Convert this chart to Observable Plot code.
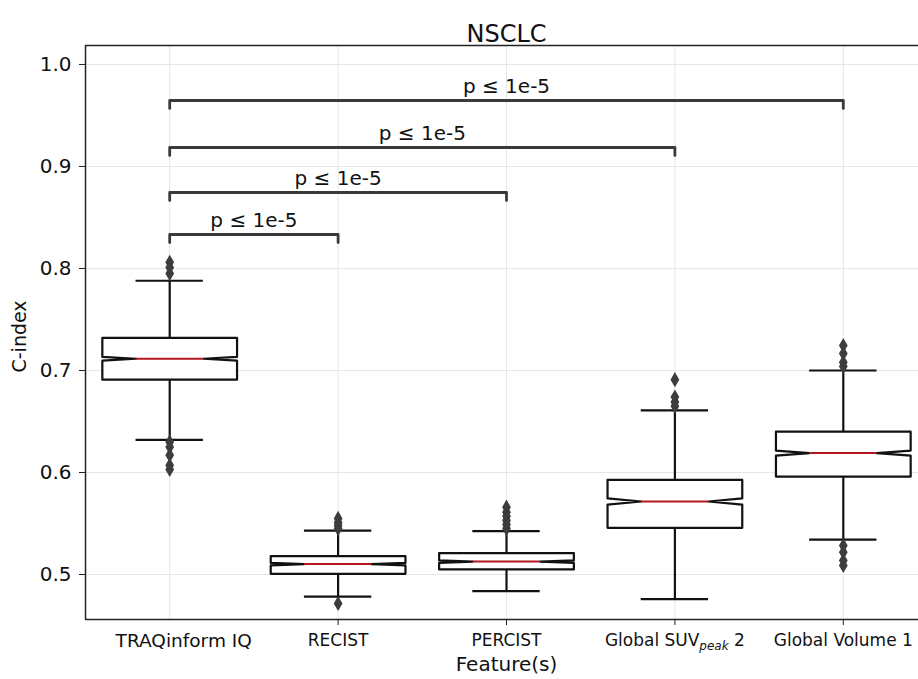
<!DOCTYPE html>
<html>
<head>
<meta charset="utf-8">
<script src="https://cdn.jsdelivr.net/npm/d3@7"></script>
<script src="https://cdn.jsdelivr.net/npm/@observablehq/plot@0.6"></script>
<style>
  html, body { margin: 0; padding: 0; background: #fff; }
  #chart { width: 918px; height: 679px; overflow: hidden; }
</style>
</head>
<body>
<div id="chart"></div>
<script>
const title = "NSCLC";
const xLabel = "Feature(s)";
const yLabel = "C-index";
const categories = ["TRAQinform IQ", "RECIST", "PERCIST", "Global SUV_peak 2", "Global Volume 1"];
const q1 =        [0.691, 0.5007, 0.505, 0.5458, 0.596];
const median =    [0.7115, 0.5102, 0.5127, 0.5716, 0.619];
const q3 =        [0.732, 0.5180, 0.521, 0.5928, 0.640];
const whiskerLo = [0.632, 0.4784, 0.4837, 0.4758, 0.5343];
const whiskerHi = [0.788, 0.5430, 0.5425, 0.661, 0.700];
const notchHalf = [0.0018, 0.0012, 0.0012, 0.003, 0.0025];
const outliers = [
  [0.806, 0.801, 0.795, 0.630, 0.625, 0.617, 0.607, 0.603],
  [0.555, 0.551, 0.548, 0.545, 0.4716],
  [0.566, 0.561, 0.557, 0.553, 0.549, 0.545],
  [0.691, 0.674, 0.669, 0.665],
  [0.7245, 0.7167, 0.708, 0.704, 0.5284, 0.5219, 0.5137, 0.5088]
];
const bracketTo = [1, 2, 3, 4];
const bracketLevel = [0.8333, 0.8745, 0.9186, 0.9647];
const bracketText = ["p ≤ 1e-5", "p ≤ 1e-5", "p ≤ 1e-5", "p ≤ 1e-5"];
const bracketDrop = 0.0078;
const yTicks = [0.5, 0.6, 0.7, 0.8, 0.9, 1.0];
const yDomain = [0.4559, 1.0186];

const BW = 0.4, IW = 0.2;
const idx = categories.map((_, i) => i);
const boxes = idx.map(i => ({i, q1: q1[i], med: median[i], q3: q3[i], lo: whiskerLo[i], hi: whiskerHi[i], n: notchHalf[i]}));
const boxPts = boxes.flatMap(b => [
  [b.i - BW, b.q3], [b.i + BW, b.q3], [b.i + BW, b.med + b.n], [b.i + IW, b.med],
  [b.i + BW, b.med - b.n], [b.i + BW, b.q1], [b.i - BW, b.q1], [b.i - BW, b.med - b.n],
  [b.i - IW, b.med], [b.i - BW, b.med + b.n]
].map(([x, y]) => ({cat: b.i, x, y})));
const outPts = outliers.flatMap((vs, i) => vs.map(v => ({i, v})));
const brackets = bracketTo.map((j, k) => ({k, j, level: bracketLevel[k], text: bracketText[k]}));
const bracketPts = brackets.flatMap(b => [
  {k: b.k, x: 0, y: b.level - bracketDrop}, {k: b.k, x: 0, y: b.level},
  {k: b.k, x: b.j, y: b.level}, {k: b.k, x: b.j, y: b.level - bracketDrop}
]);
const mid = (categories.length - 1) / 2;

const plot = Plot.plot({
  width: 918,
  height: 679,
  marginLeft: 85,
  marginRight: 0,
  marginTop: 45,
  marginBottom: 60,
  style: {fontFamily: "DejaVu Sans", background: "white", color: "#111"},
  x: {type: "linear", domain: [-0.5, categories.length - 0.5], range: [85, 927]},
  y: {domain: yDomain},
  marks: [
    Plot.gridY(yTicks, {stroke: "#e6e6e6", strokeOpacity: 1, strokeWidth: 1}),
    Plot.gridX(idx, {stroke: "#e6e6e6", strokeOpacity: 1, strokeWidth: 1}),
    Plot.ruleX(boxes, {x: "i", y1: "q3", y2: "hi", stroke: "#111", strokeWidth: 2.2}),
    Plot.ruleX(boxes, {x: "i", y1: "q1", y2: "lo", stroke: "#111", strokeWidth: 2.2}),
    Plot.ruleY(boxes, {y: "hi", x1: d => d.i - IW, x2: d => d.i + IW, stroke: "#111", strokeWidth: 2.2}),
    Plot.ruleY(boxes, {y: "lo", x1: d => d.i - IW, x2: d => d.i + IW, stroke: "#111", strokeWidth: 2.2}),
    Plot.line(boxPts, {x: "x", y: "y", z: "cat", curve: "linear-closed", fill: "white", stroke: "#111", strokeWidth: 2.2}),
    Plot.ruleY(boxes, {y: "med", x1: d => d.i - IW, x2: d => d.i + IW, stroke: "#b3161c", strokeWidth: 2}),
    Plot.dot(outPts, {x: "i", y: "v", symbol: "diamond", r: 4.6, fill: "#3d3d3d", stroke: null}),
    Plot.line(bracketPts, {x: "x", y: "y", z: "k", stroke: "#3a3a3a", strokeWidth: 2.8}),
    Plot.text(brackets, {x: d => d.j / 2, y: "level", text: "text", dy: -14, fontSize: 20, fill: "#111"}),
    Plot.ruleX([-0.5], {stroke: "#222", strokeWidth: 1.5}),
    Plot.ruleY([yDomain[0]], {stroke: "#222", strokeWidth: 1.5}),
    Plot.ruleY([yDomain[1]], {stroke: "#222", strokeWidth: 1.5}),
    Plot.axisY({ticks: yTicks, tickFormat: d3.format(".1f"), fontSize: 20, tickSize: 6, tickPadding: 8, label: null, stroke: "#222"}),
    Plot.axisX({ticks: idx.slice(1), tickFormat: i => categories[i], fontSize: 17, tickSize: 6, tickPadding: 8, label: null, stroke: "#222"}),
    Plot.axisX({ticks: idx.slice(0, 1), tickFormat: i => categories[i], fontSize: 18.5, tickSize: 0, tickPadding: 14, dx: 14, label: null}),
    Plot.text([yLabel], {frameAnchor: "left", rotate: -90, dx: -66, dy: 40, fontSize: 19, fill: "#111"}),
    Plot.text([xLabel], {x: () => mid, frameAnchor: "bottom", dy: 51, fontSize: 20, fill: "#111"}),
    Plot.text([title], {x: () => mid, frameAnchor: "top", dy: -21, fontSize: 24, fill: "#111"})
  ]
});

// subscript rendering for "SUV_peak"
plot.querySelectorAll("text").forEach(t => {
  if (t.textContent === "Global SUV_peak 2") {
    const ns = "http://www.w3.org/2000/svg";
    t.textContent = "";
    const a = document.createElementNS(ns, "tspan"); a.textContent = "Global SUV";
    const b = document.createElementNS(ns, "tspan"); b.textContent = "peak";
    b.setAttribute("font-style", "italic"); b.setAttribute("font-size", "12"); b.setAttribute("dy", "4");
    const c = document.createElementNS(ns, "tspan"); c.textContent = " 2"; c.setAttribute("dy", "-4");
    t.append(a, b, c);
  }
});
document.getElementById("chart").appendChild(plot);
</script>
</body>
</html>
